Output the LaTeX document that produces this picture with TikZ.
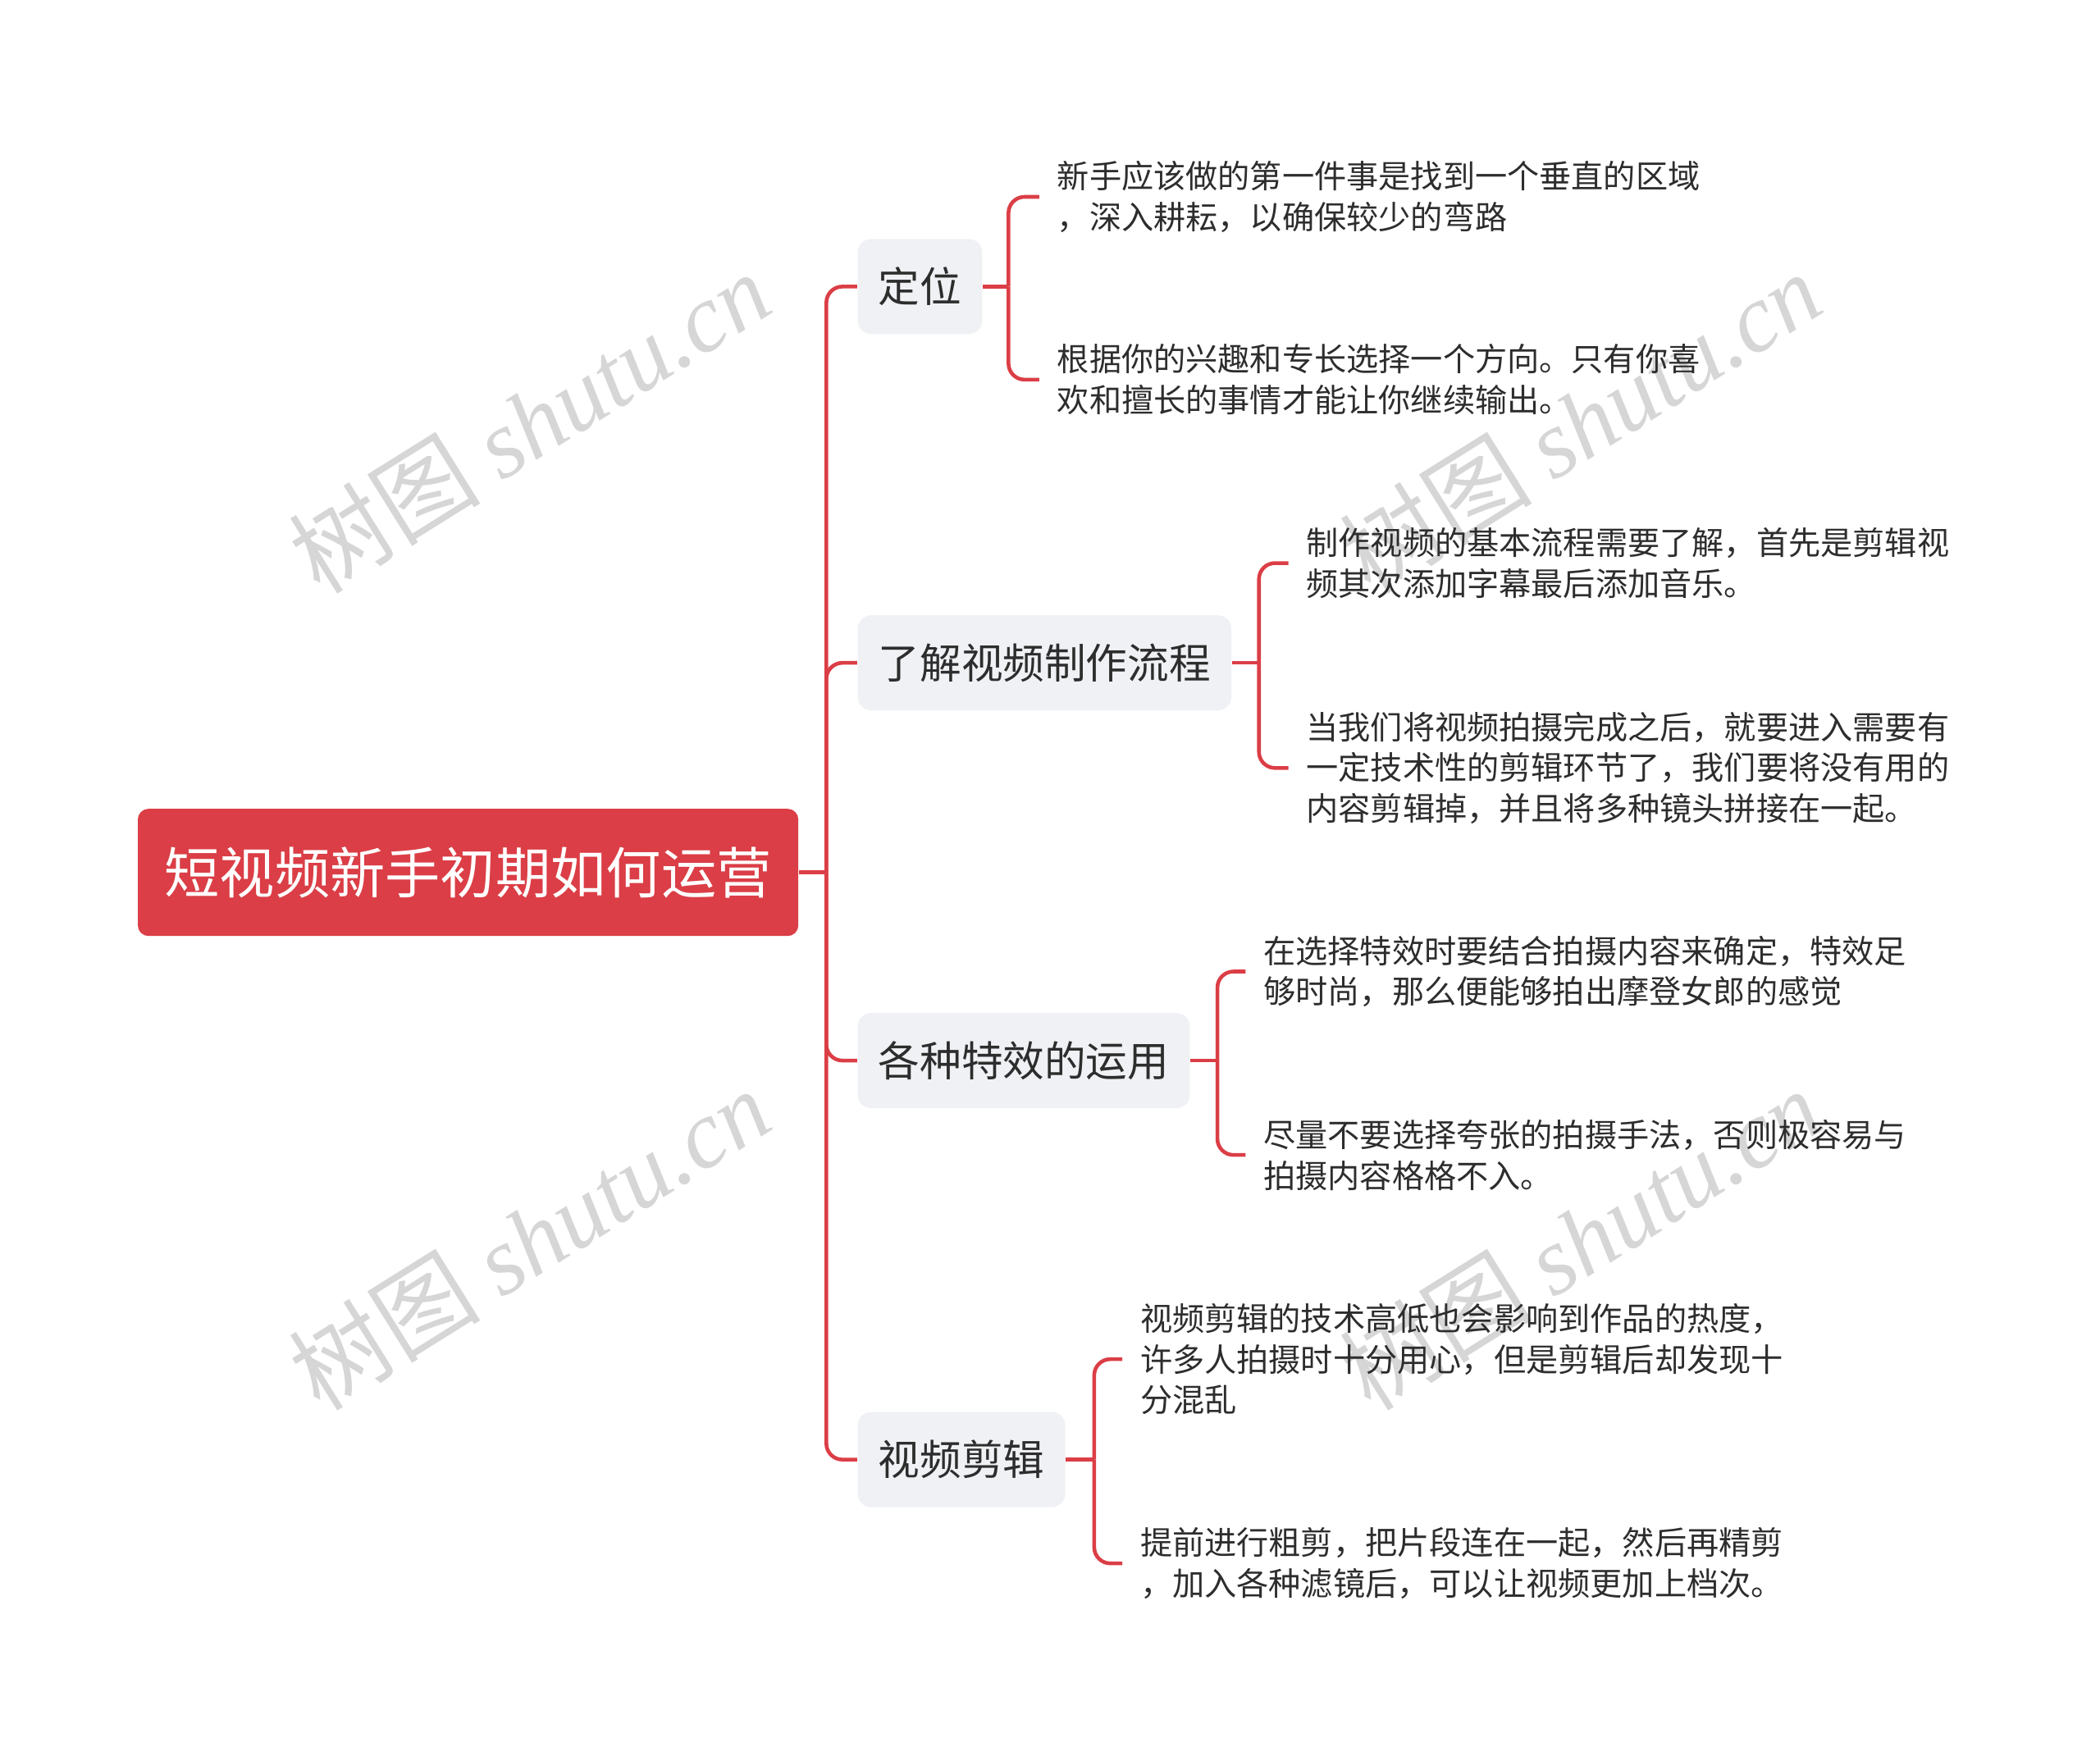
\documentclass[tikz,border=0pt]{standalone}
\usepackage{fontspec}
\setmainfont{Noto Sans CJK SC}
\newfontfamily\wmcjk{Noto Sans CJK SC}
\newfontfamily\wmlatin{Liberation Serif}
\definecolor{mapred}{RGB}{219,62,70}
\definecolor{topicfill}{RGB}{239,241,244}
\definecolor{ink}{RGB}{45,45,45}
\definecolor{wmgray}{RGB}{214,214,214}

\begin{document}
\begin{tikzpicture}[x=0.5pt,y=-0.5pt,
  rootbox/.style={fill=mapred,text=white,rounded corners=4pt,inner xsep=10pt,
    minimum height=47.5pt,font=\fontsize{20.6pt}{25pt}\selectfont},
  topicbox/.style={fill=topicfill,text=ink,rounded corners=5pt,inner xsep=7.75pt,
    minimum height=35.5pt,anchor=west,font=\fontsize{15.5pt}{18pt}\selectfont},
  leaf/.style={anchor=west,align=left,text=ink,inner xsep=6.5pt,inner ysep=0pt,
    font=\fontsize{12pt}{15.25pt}\selectfont},
  branch/.style={draw=mapred,line width=1.4pt,rounded corners=6pt},
  wmark/.style={text=wmgray,rotate=32,inner sep=0pt,font=\fontsize{36pt}{40pt}\selectfont}]

\useasboundingbox (0,0) rectangle (1568,1311);

% watermarks
\node[wmark] (wm1) at (395,315) {\wmcjk 树图 \wmlatin\itshape shutu.cn};
\node[wmark] (wm2) at (1180,315) {\wmcjk 树图 \wmlatin\itshape shutu.cn};
\node[wmark] (wm3) at (395,925) {\wmcjk 树图 \wmlatin\itshape shutu.cn};
\node[wmark] (wm4) at (1180,925) {\wmcjk 树图 \wmlatin\itshape shutu.cn};

% root and topics
\node[rootbox] (rt) at (349.5,651.5) {短视频新手初期如何运营};
\node[topicbox] (dw) at (640,214) {定位};
\node[topicbox] (lc) at (640,495) {了解视频制作流程};
\node[topicbox] (tx) at (640,792) {各种特效的运用};
\node[topicbox] (jj) at (640,1090) {视频剪辑};

% leaves
\node[leaf] (dw1) at (776,147) {新手应该做的第一件事是找到一个垂直的区域\\，深入耕耘，以确保较少的弯路};
\node[leaf] (dw2) at (776,283.5) {根据你的兴趣和专长选择一个方向。只有你喜\\欢和擅长的事情才能让你继续输出。};
\node[leaf] (lc1) at (962,420.5) {制作视频的基本流程需要了解，首先是剪辑视\\频其次添加字幕最后添加音乐。};
\node[leaf] (lc2) at (962,573.5) {当我们将视频拍摄完成之后，就要进入需要有\\一定技术性的剪辑环节了，我们要将没有用的\\内容剪辑掉，并且将多种镜头拼接在一起。};
\node[leaf] (tx1) at (930,725.5) {在选择特效时要结合拍摄内容来确定，特效足\\够时尚，那么便能够拍出摩登女郎的感觉};
\node[leaf] (tx2) at (930,862.5) {尽量不要选择夸张的拍摄手法，否则极容易与\\拍摄内容格格不入。};
\node[leaf] (jj1) at (838,1015) {视频剪辑的技术高低也会影响到作品的热度，\\许多人拍摄时十分用心，但是剪辑后却发现十\\分混乱};
\node[leaf] (jj2) at (838,1167.5) {提前进行粗剪，把片段连在一起，然后再精剪\\，加入各种滤镜后，可以让视频更加上档次。};

% trunk
\draw[branch] (rt.east) -- (617,651.5) coordinate (tk);
\draw[branch] (tk) |- (dw.west);
\draw[branch] (tk) |- (lc.west);
\draw[branch] (tk) |- (tx.west);
\draw[branch] (tk) |- (jj.west);

% brackets
\draw[branch] (dw.east) -- (753,214) coordinate (dwj);
\draw[branch] (dwj) |- (dw1.west);
\draw[branch] (dwj) |- (dw2.west);
\draw[branch] (lc.east) -- (940,495) coordinate (lcj);
\draw[branch] (lcj) |- (lc1.west);
\draw[branch] (lcj) |- (lc2.west);
\draw[branch] (tx.east) -- (909,792) coordinate (txj);
\draw[branch] (txj) |- (tx1.west);
\draw[branch] (txj) |- (tx2.west);
\draw[branch] (jj.east) -- (817,1090) coordinate (jjj);
\draw[branch] (jjj) |- (jj1.west);
\draw[branch] (jjj) |- (jj2.west);

\end{tikzpicture}
\end{document}
